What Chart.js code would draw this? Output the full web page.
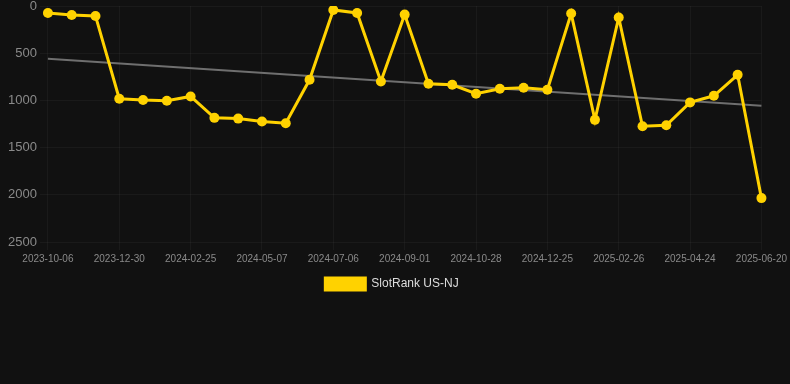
<!DOCTYPE html>
<html>
<head>
<meta charset="utf-8">
<script src="https://cdn.jsdelivr.net/npm/chart.js@4/dist/chart.umd.min.js"></script>
<style>
  html, body { margin: 0; padding: 0; background: #111111; }
  #wrap { width: 790px; height: 300px; position: relative; }
</style>
</head>
<body>
<div id="wrap"><canvas id="rank"></canvas></div>
<script>
// dates (only every 3rd one is shown as a tick)
const dates = [
  '2023-10-06', '2023-11-03', '2023-12-01', '2023-12-30', '2024-01-18', '2024-02-06',
  '2024-02-25', '2024-03-21', '2024-04-14', '2024-05-07', '2024-05-27', '2024-06-16',
  '2024-07-06', '2024-07-25', '2024-08-13', '2024-09-01', '2024-09-20', '2024-10-09',
  '2024-10-28', '2024-11-16', '2024-12-06', '2024-12-25', '2025-01-15', '2025-02-05',
  '2025-02-26', '2025-03-17', '2025-04-05', '2025-04-24', '2025-05-13', '2025-06-01',
  '2025-06-20'
];

const rankNJ = [
  74, 95, 105, 982, 996, 1003, 958, 1185, 1193, 1224, 1242,
  782, 42, 74, 800, 91, 824, 835, 929, 877, 866, 887,
  80, 1206, 122, 1274, 1263, 1021, 951, 729, 2035
];

// trend line end values
const trendStart = 558;
const trendEnd   = 1056;

const yTicks = [0, 500, 1000, 1500, 2000, 2500];

const C = {
  line : '#ffd200',
  trend: '#6f6f6f',
  grid : 'rgba(255,255,255,0.04)',
  tick : '#8a8a8a',
  text : '#dddddd'
};

const trend = dates.map(function(d, i) {
  if (i === 0) return trendStart;
  if (i === dates.length - 1) return trendEnd;
  return null;
});

new Chart(document.getElementById('rank').getContext('2d'), {
  type: 'line',
  data: {
    labels  : dates,
    datasets: [
      {
        label               : 'SlotRank US-NJ',
        data                : rankNJ,
        borderColor         : C.line,
        backgroundColor     : C.line,
        borderWidth         : 3,
        pointRadius         : 5,
        pointHoverRadius    : 6,
        pointBackgroundColor: C.line,
        pointBorderWidth    : 0,
        tension             : 0,
        order               : 1
      },
      {
        label      : 'trend',
        data       : trend,
        borderColor: C.trend,
        borderWidth: 2,
        pointRadius: 0,
        spanGaps   : true,
        fill       : false,
        order      : 2
      }
    ]
  },
  options: {
    responsive         : true,
    maintainAspectRatio: false,
    animation          : false,
    layout             : { padding: { left: 5, right: 11, top: 0, bottom: 0 } },
    plugins: {
      legend: {
        position: 'bottom',
        labels  : {
          color    : C.text,
          boxWidth : 40,
          boxHeight: 12,
          font     : { family: 'Arial', size: 12 },
          filter   : function(item) { return item.datasetIndex === 0; }
        }
      },
      tooltip: { enabled: false }
    },
    scales: {
      x: {
        grid  : {
          color: function(ctx) { return ctx.index % 3 === 0 ? C.grid : 'transparent'; }
        },
        border: { display: false },
        ticks : {
          color      : C.tick,
          autoSkip   : false,
          maxRotation: 0,
          font       : { family: 'Arial', size: 10 },
          callback   : function(v, i) { return i % 3 === 0 ? dates[i] : ''; }
        }
      },
      y: {
        reverse: true,
        min    : 0,
        max    : 2500,
        afterBuildTicks: function(axis) { axis.ticks = yTicks.map(function(v) { return { value: v }; }); },
        afterFit: function(axis) { axis.paddingTop = 6; },
        grid   : { color: C.grid },
        border : { display: false },
        ticks  : {
          color   : C.tick,
          font    : { family: 'Arial', size: 13 },
          callback: function(v) { return String(v); }
        }
      }
    }
  }
});
</script>
</body>
</html>
